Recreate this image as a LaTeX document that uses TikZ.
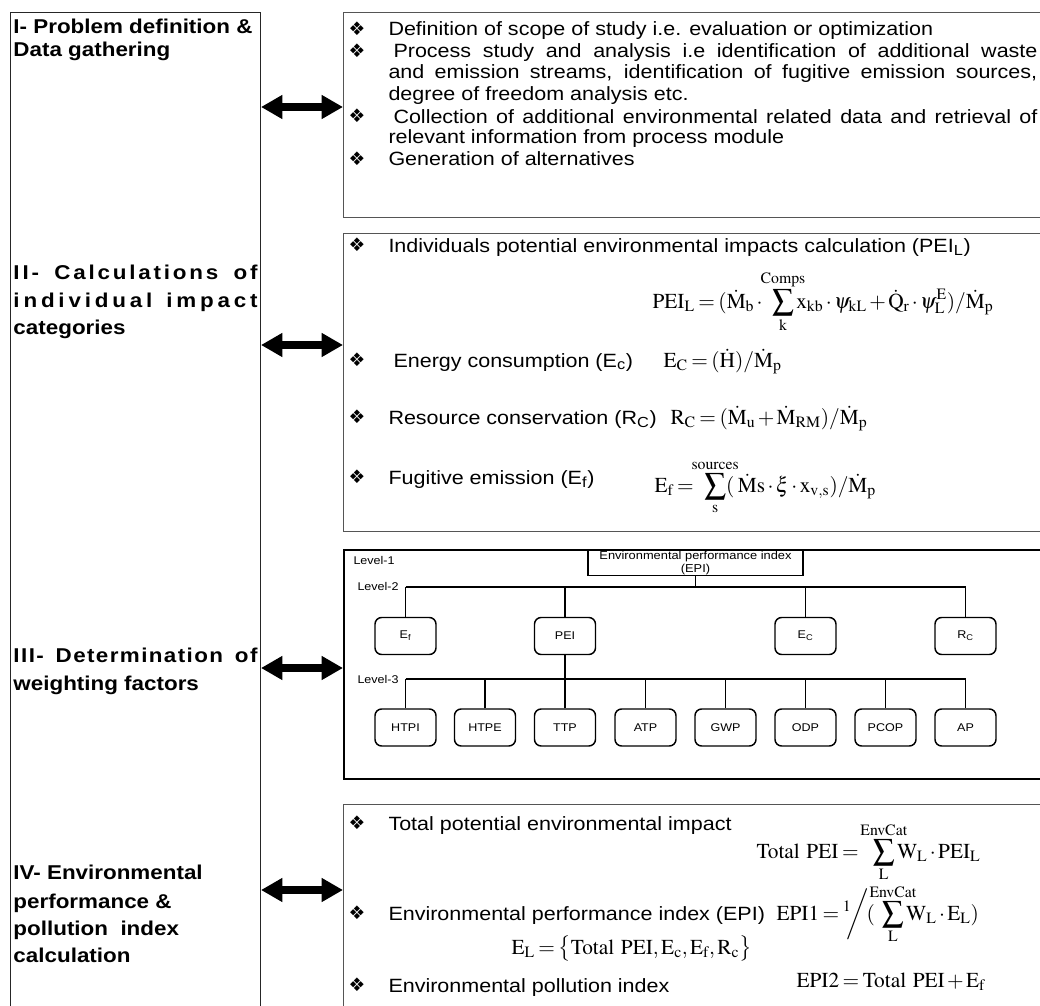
\documentclass[tikz,border=0pt]{standalone}
\usepackage{mathptmx}
\usepackage[no-math]{fontspec}
\setmainfont{Liberation Sans}[FakeStretch=1.12]
\newfontfamily\dingfont{DejaVu Sans}
\usetikzlibrary{arrows.meta, positioning}
\definecolor{cframe}{HTML}{555555}
\newcommand{\bul}{{\dingfont\fontsize{14}{14}\selectfont\symbol{"2756}}}
\newcommand{\Md}{\dot{\mathrm{M}}}
\newcommand{\zlim}[1]{\makebox[0pt]{$\scriptstyle\mathrm{#1}$}}
\newcommand{\fillline}[2]{\makebox[#1][s]{#2}}
\newcommand{\tightmath}{\thickmuskip=3mu\relax\medmuskip=2mu\relax}
\tikzset{
  every picture/.style={line width=0.75pt},
  stagebox/.style={draw=black!85, anchor=north west, minimum width=187.5pt, minimum height=765pt, inner sep=0pt},
  listbox/.style={draw=cframe, anchor=north west, minimum width=530pt, inner sep=0pt},
  txt/.style={anchor=base west, inner sep=0pt, font=\fontsize{14.4}{17}\selectfont},
  ttl/.style={anchor=base west, inner sep=0pt, font=\fontsize{15}{18}\selectfont\bfseries},
  bulnode/.style={inner sep=0pt},
  eq/.style={anchor=base west, inner sep=0pt, font=\fontsize{16}{19}\selectfont\tightmath},
  twoway/.style={{Triangle[length=16pt, width=17pt]}-{Triangle[length=16pt, width=17pt]}, line width=6pt},
  lvl/.style={draw, rounded corners=5pt, line width=1.1pt, minimum width=45.75pt, minimum height=27.75pt, inner sep=0pt, font=\fontsize{8.4}{10}\selectfont},
  lvltxt/.style={anchor=west, inner sep=0pt, font=\fontsize{8.4}{10}\selectfont},
  tree/.style={line width=1.1pt},
}

\begin{document}
\begin{tikzpicture}[x=0.75pt, y=-0.75pt]
  \path[use as bounding box, clip] (0,0) rectangle (1040,1006);

  % ---- left column: the four stages
  \node[stagebox] (stages) at (10,12) {};
  \node[ttl] (t1a) at (13,34) {I- Problem definition \&};
  \node[ttl] (t1b) at (13,57) {Data gathering};
  \node[ttl] (t2a) at (13,279) {\fillline{183pt}{\addfontfeature{LetterSpace=14}II- Calculations of}};
  \node[ttl] (t2b) at (13,307) {\fillline{183pt}{\addfontfeature{LetterSpace=19}individual impact}};
  \node[ttl] (t2c) at (13,334) {categories};
  \node[ttl] (t3a) at (13,662) {\fillline{183pt}{\addfontfeature{LetterSpace=7}III- Determination of}};
  \node[ttl] (t3b) at (13,690) {weighting factors};
  \node[ttl] (t4a) at (13,879) {IV- Environmental};
  \node[ttl] (t4b) at (13,908) {performance \&};
  \node[ttl] (t4c) at (13,935) {pollution\ \ index};
  \node[ttl] (t4d) at (13,962) {calculation};

  % ---- I: problem definition
  \node[listbox, minimum height=153.75pt] (box1) at (343,12) {};
  \node[bulnode] (b11) at (357,29) {\bul};
  \node[txt] (d1) at (388,36) {Definition of scope of study i.e. evaluation or optimization};
  \node[bulnode] (b12) at (357,51) {\bul};
  \node[txt] (d2a) at (393,58) {\fillline{483pt}{Process study and analysis i.e identification of additional waste}};
  \node[txt] (d2b) at (388,79) {\fillline{486.5pt}{and emission streams, identification of fugitive emission sources,}};
  \node[txt] (d2c) at (388,101) {degree of freedom analysis etc.};
  \node[bulnode] (b13) at (357,116) {\bul};
  \node[txt] (d3a) at (393,123) {\fillline{483pt}{Collection of additional environmental related data and retrieval of}};
  \node[txt] (d3b) at (388,144) {relevant information from process module};
  \node[bulnode] (b14) at (357,159) {\bul};
  \node[txt] (d4) at (388,166) {Generation of alternatives};

  % ---- II: impact categories
  \node[listbox, minimum height=223.5pt] (box2) at (343,233) {};
  \node[bulnode] (b21) at (357,245) {\bul};
  \node[txt] (c1) at (388,252) {Individuals potential environmental impacts calculation (PEI\textsubscript{L})};
  \node[eq] (f1) at (652,308) {$\displaystyle \mathrm{PEI_L} = (\Md_{\mathrm{b}}\cdot\;\; \sum_{\zlim{k}}^{\zlim{Comps}}\mathrm{x_{kb}}\cdot\psi_{\mathrm{kL}} + \dot{\mathrm{Q}}_{\mathrm{r}}\cdot\psi_{\mathrm{L}}^{\mathrm{E}})/\Md_{\mathrm{p}}$};
  \node[bulnode] (b22) at (357,360) {\bul};
  \node[txt] (c2) at (393,367) {Energy consumption (E\textsubscript{c})};
  \node[eq] (f2) at (663,367) {$\mathrm{E_C} = (\dot{\mathrm{H}})/\Md_{\mathrm{p}}$};
  \node[bulnode] (b23) at (357,417) {\bul};
  \node[txt] (c3) at (388,424) {Resource conservation (R\textsubscript{C})};
  \node[eq] (f3) at (670,424) {$\mathrm{R_C} = (\Md_{\mathrm{u}} + \Md_{\mathrm{RM}})/\Md_{\mathrm{p}}$};
  \node[bulnode] (b24) at (357,477) {\bul};
  \node[txt] (c4) at (388,484) {Fugitive emission (E\textsubscript{f})};
  \node[eq] (f4) at (654,492) {$\displaystyle \mathrm{E_f} =\;\; \sum_{\zlim{s}}^{\zlim{sources}}(\;\Md\mathrm{s}\cdot\xi\cdot\mathrm{x_{v,s}})/\Md_{\mathrm{p}}$};

  % ---- III: weighting factors
  \node[listbox, draw=black, line width=1.5pt, minimum height=171.75pt] (box3) at (343,549) {};
  \node[lvltxt] (lv1txt) at (353,560) {Level-1};
  \node[draw, line width=1.1pt, inner sep=0pt, minimum width=161.25pt, minimum height=19pt, align=center, font=\fontsize{8.6}{9.4}\selectfont] (epi) at (695.5,563) {Environmental performance index\\(EPI)};
  \coordinate (lv2) at (0,587);
  \coordinate (lv3) at (0,679);
  \node[lvltxt] (lv2txt) at (357,586) {Level-2};
  \node[lvltxt] (lv3txt) at (357,679) {Level-3};
  \node[lvl] (ef)  at (405.5,636) {E\textsubscript{f}};
  \node[lvl] (pei) at (565,636)   {PEI};
  \node[lvl] (ec)  at (805.5,636) {E\textsubscript{C}};
  \node[lvl] (rc)  at (965.5,636) {R\textsubscript{C}};
  \foreach \n/\x/\t in {htpi/405.5/HTPI, htpe/485/HTPE, ttp/565/TTP, atp/645.5/ATP,
                        gwp/725.5/GWP, odp/805.5/ODP, pcop/885.5/PCOP, ap/965.5/AP}
    \node[lvl] (\n) at (\x,727.5) {\t};
  \draw[tree] (epi.south) -- (epi.south |- lv2);
  \draw[tree] (ef.north |- lv2) -- (rc.north |- lv2);
  \foreach \n in {ef, pei, ec, rc} \draw[tree] (\n.north) -- (\n.north |- lv2);
  \draw[tree] (pei.south) -- (pei.south |- lv3);
  \draw[tree] (htpi.north |- lv3) -- (ap.north |- lv3);
  \foreach \n in {htpi, htpe, ttp, atp, gwp, odp, pcop, ap} \draw[tree] (\n.north) -- (\n.north |- lv3);

  % ---- IV: performance and pollution index
  \node[listbox, minimum height=165pt] (box4) at (343,804) {};
  \node[bulnode] (b41) at (357,823) {\bul};
  \node[txt] (e1) at (388,830) {Total potential environmental impact};
  \node[eq] (g1) at (756,858) {$\displaystyle \mathrm{Total\ PEI} =\;\;\; \sum_{\zlim{L}}^{\zlim{EnvCat}}\mathrm{W_L}\cdot\mathrm{PEI_L}$};
  \node[bulnode] (b42) at (357,913) {\bul};
  \node[txt] (e2) at (388,920) {Environmental performance index (EPI)};
  \node[eq] (g2) at (776,920) {$\displaystyle \mathrm{EPI1} = {}^{1}\!\!\bigg/\!(\;\; \sum_{\zlim{L}}^{\zlim{EnvCat}}\mathrm{W_L}\cdot\mathrm{E_L})$};
  \node[eq] (g3) at (511,954) {$\mathrm{E_L} = \bigl\{\mathrm{Total\ PEI}, \mathrm{E_c}, \mathrm{E_f}, \mathrm{R_c}\bigr\}$};
  \node[bulnode] (b43) at (357,985) {\bul};
  \node[txt] (e3) at (388,992) {Environmental pollution index};
  \node[eq] (g4) at (796,987) {$\mathrm{EPI2} = \mathrm{Total\ PEI} + \mathrm{E_f}$};

  % ---- two-way arrows between stages and boxes
  \coordinate (a1) at (0,107);
  \coordinate (a2) at (0,345);
  \coordinate (a3) at (0,668);
  \coordinate (a4) at (0,890);
  \draw[twoway] (stages.east |- a1) -- (box1.west |- a1);
  \draw[twoway] (stages.east |- a2) -- (box2.west |- a2);
  \draw[twoway] (stages.east |- a3) -- (box3.west |- a3);
  \draw[twoway] (stages.east |- a4) -- (box4.west |- a4);
\end{tikzpicture}
\end{document}
